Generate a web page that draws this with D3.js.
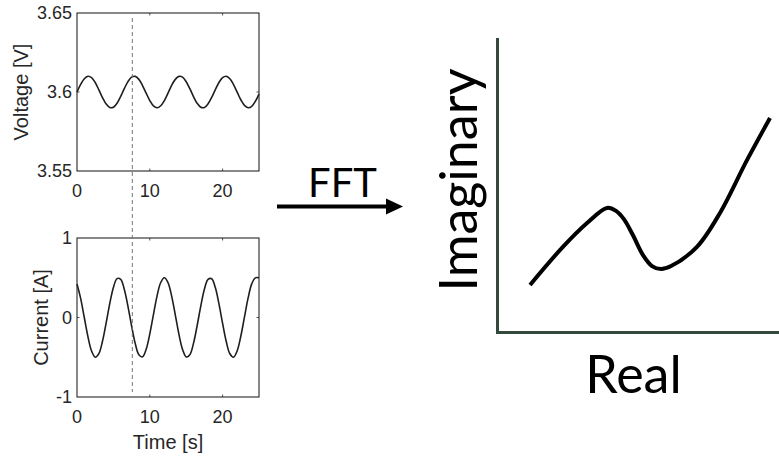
<!DOCTYPE html>
<html>
<head>
<meta charset="utf-8">
<script src="https://cdn.jsdelivr.net/npm/d3@7"></script>
<style>
  html, body { margin: 0; padding: 0; background: #fff; }
  svg { display: block; }
</style>
</head>
<body>
<svg id="chart" width="779" height="457"></svg>
<script>
// ---- data ----
const time = [0,0.5,1,1.5,2,2.5,3,3.5,4,4.5,5,5.5,6,6.5,7,7.5,8,8.5,9,9.5,10,10.5,11,11.5,12,12.5,13,13.5,14,14.5,15,15.5,16,16.5,17,17.5,18,18.5,19,19.5,20,20.5,21,21.5,22,22.5,23,23.5,24,24.5,25];
const voltage = [3.6,3.6048,3.6084,3.61,3.6091,3.606,3.6014,3.5965,3.5924,3.5902,3.5904,3.5929,3.5972,3.6022,3.6066,3.6094,3.6099,3.608,3.6041,3.5993,3.5946,3.5912,3.59,3.5913,3.5946,3.5993,3.6042,3.608,3.6099,3.6094,3.6065,3.6021,3.5971,3.5929,3.5904,3.5902,3.5925,3.5966,3.6015,3.606,3.6091,3.61,3.6084,3.6047,3.5999,3.5951,3.5915,3.59,3.5909,3.5941,3.5987];
const current = [0.421,0.240,0.000,-0.240,-0.421,-0.499,-0.455,-0.299,-0.070,0.175,0.378,0.489,0.480,0.353,0.140,-0.107,-0.328,-0.469,-0.495,-0.400,-0.207,0.037,0.272,0.440,0.500,0.438,0.269,0.034,-0.210,-0.402,-0.496,-0.468,-0.326,-0.104,0.143,0.356,0.481,0.488,0.376,0.171,-0.074,-0.302,-0.456,-0.499,-0.419,-0.236,0.004,0.243,0.423,0.499,0.499];
const markerTime = 7.6;
const timeTicks = [0,10,20];
const voltageTicks = [3.55,3.6,3.65];
const voltageTickLabels = ["3.55","3.6","3.65"];
const currentTicks = [-1,0,1];
const currentTickLabels = ["-1","0","1"];
const nyquistReal = [1.14,2.31,3.17,3.88,4.20,4.48,4.80,5.16,5.48,5.80,6.16,7.08,7.90,8.86,9.68];
const nyquistImag = [1.63,2.92,3.73,4.24,4.14,3.86,3.32,2.64,2.27,2.17,2.27,2.92,4.07,5.86,7.29];
const labels = { voltage: "Voltage [V]", current: "Current [A]", time: "Time [s]", fft: "FFT", real: "Real", imag: "Imaginary" };

// ---- drawing ----
const svg = d3.select("#chart");
const axisColor = "#262626";
const mFont = "'Liberation Sans', Arial, sans-serif";
const cFont = "Lato, 'Open Sans', sans-serif";

const x = d3.scaleLinear().domain([0, 25]).range([77, 259]);
const yV = d3.scaleLinear().domain([3.55, 3.65]).range([171, 13]);
const yI = d3.scaleLinear().domain([-1, 1]).range([397, 238]);

function panel(y, yTicks, yTickLabels, series, ylabel, ylabelX) {
  const [y0, y1] = y.range();
  const g = svg.append("g");
  const tl = 2.5;
  timeTicks.forEach(t => {
    if (t === 0) return;
    g.append("line").attr("x1", x(t)).attr("x2", x(t)).attr("y1", y0).attr("y2", y0 - tl).attr("stroke", axisColor).attr("stroke-width", 0.8);
    g.append("line").attr("x1", x(t)).attr("x2", x(t)).attr("y1", y1).attr("y2", y1 + tl).attr("stroke", axisColor).attr("stroke-width", 0.8);
  });
  yTicks.forEach(v => {
    if (v === y.domain()[0] || v === y.domain()[1]) return;
    g.append("line").attr("x1", x.range()[0]).attr("x2", x.range()[0] + tl).attr("y1", y(v)).attr("y2", y(v)).attr("stroke", axisColor).attr("stroke-width", 0.8);
    g.append("line").attr("x1", x.range()[1]).attr("x2", x.range()[1] - tl).attr("y1", y(v)).attr("y2", y(v)).attr("stroke", axisColor).attr("stroke-width", 0.8);
  });
  const line = d3.line().x((d, i) => x(time[i])).y(d => y(d)).curve(d3.curveCatmullRom);
  g.append("path").datum(series).attr("d", line).attr("fill", "none").attr("stroke", "#1e1e1e").attr("stroke-width", 1.6);
  g.append("rect").attr("x", x.range()[0]).attr("y", y1).attr("width", x.range()[1] - x.range()[0]).attr("height", y0 - y1)
    .attr("fill", "none").attr("stroke", axisColor).attr("stroke-width", 1.1);
  g.selectAll("text.xt").data(timeTicks).join("text").attr("class", "xt")
    .attr("x", d => x(d)).attr("y", y0 + 26).attr("text-anchor", "middle")
    .attr("font-family", mFont).attr("font-size", 18).attr("fill", axisColor).text(d => d);
  g.selectAll("text.yt").data(yTicks).join("text").attr("class", "yt")
    .attr("x", 72).attr("y", d => y(d)).attr("dy", "0.35em").attr("text-anchor", "end")
    .attr("font-family", mFont).attr("font-size", 18).attr("fill", axisColor).text((d, i) => yTickLabels[i]);
  g.append("text").attr("transform", `translate(${ylabelX},${(y0 + y1) / 2}) rotate(-90)`)
    .attr("text-anchor", "middle").attr("font-family", mFont).attr("font-size", 20).attr("fill", axisColor).text(ylabel);
}

panel(yV, voltageTicks, voltageTickLabels, voltage, labels.voltage, 28);
panel(yI, currentTicks, currentTickLabels, current, labels.current, 48);

svg.append("text").attr("x", 168).attr("y", 449).attr("text-anchor", "middle")
  .attr("font-family", mFont).attr("font-size", 20).attr("fill", axisColor).text(labels.time);

svg.append("line").attr("x1", x(markerTime)).attr("x2", x(markerTime)).attr("y1", 18).attr("y2", 392)
  .attr("stroke", "#6a7a76").attr("stroke-width", 1).attr("stroke-dasharray", "4,3");

// FFT arrow
svg.append("line").attr("x1", 277).attr("x2", 389).attr("y1", 206.5).attr("y2", 206.5).attr("stroke", "#000").attr("stroke-width", 4);
svg.append("path").attr("d", "M386,198.5 L403,206.5 L386,214.5 Z").attr("fill", "#000");
svg.append("text").attr("x", 342.5).attr("y", 197).attr("text-anchor", "middle")
  .attr("font-family", cFont).attr("font-size", 40).attr("fill", "#000").text(labels.fft);

// Nyquist sketch
const xr = d3.scaleLinear().domain([0, 10]).range([498, 779]);
const yr = d3.scaleLinear().domain([0, 10]).range([333, 38]);
const axisG = "#34483c";
svg.append("line").attr("x1", 497.5).attr("x2", 497.5).attr("y1", 38).attr("y2", 334).attr("stroke", axisG).attr("stroke-width", 3);
svg.append("line").attr("x1", 496).attr("x2", 779).attr("y1", 332.5).attr("y2", 332.5).attr("stroke", axisG).attr("stroke-width", 3);
const nl = d3.line().x((d, i) => xr(nyquistReal[i])).y(d => yr(d)).curve(d3.curveCatmullRom.alpha(0.5));
svg.append("path").datum(nyquistImag).attr("d", nl).attr("fill", "none").attr("stroke", "#000").attr("stroke-width", 4);

svg.append("text").attr("x", 633.5).attr("y", 393).attr("text-anchor", "middle")
  .attr("font-family", cFont).attr("font-size", 52).attr("fill", "#000").text(labels.real);
svg.append("text").attr("transform", "translate(477,180) rotate(-90)").attr("text-anchor", "middle")
  .attr("font-family", cFont).attr("font-size", 52).attr("fill", "#000").text(labels.imag);
</script>
</body>
</html>
